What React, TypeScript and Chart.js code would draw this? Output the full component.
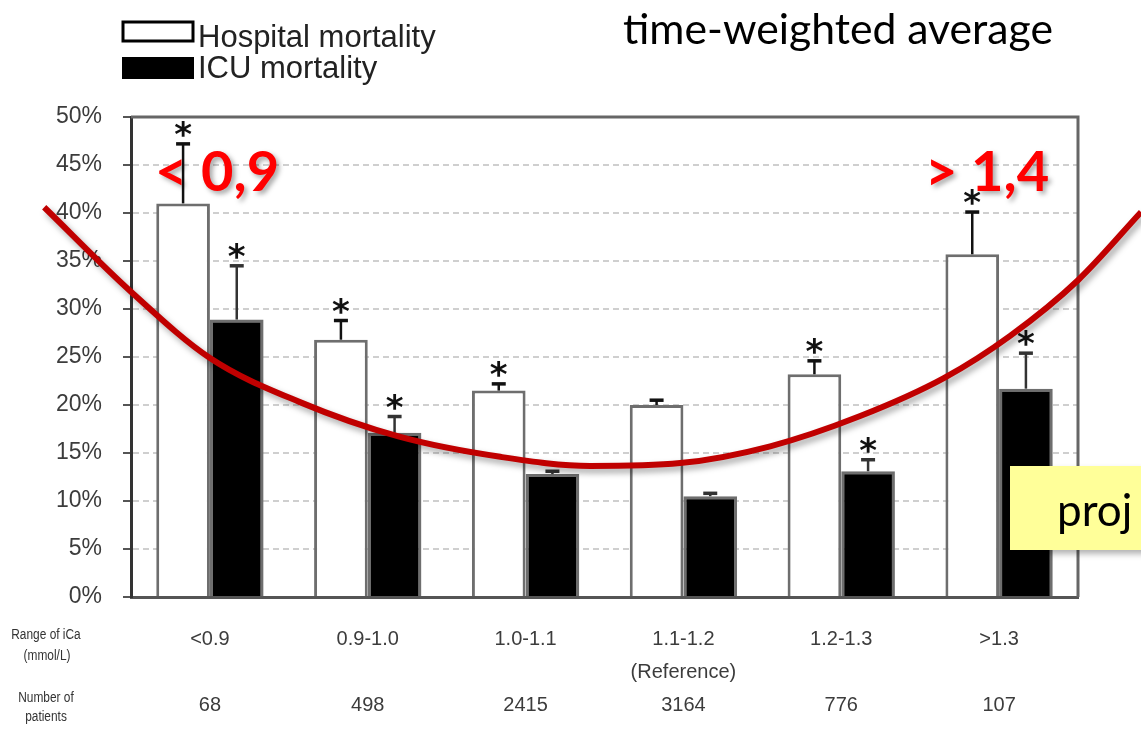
import React, { useEffect, useRef } from 'react';
import { Chart, registerables } from 'chart.js';

Chart.register(...registerables);

// ---------- data ----------
const categories = ['<0.9', '0.9-1.0', '1.0-1.1', '1.1-1.2', '1.2-1.3', '>1.3'];
const categorySubLabels = ['', '', '', '(Reference)', '', ''];
const patientCounts = ['68', '498', '2415', '3164', '776', '107'];

const hospitalMortality = [41.0, 26.8, 21.5, 20.0, 23.2, 35.7];
const hospitalErrorTop = [47.2, 28.8, 22.2, 20.5, 24.6, 40.1];
const hospitalSignificant = [true, true, true, false, true, true];

const icuMortality = [28.9, 17.1, 12.8, 10.5, 13.1, 21.7];
const icuErrorTop = [34.5, 18.8, 13.1, 10.8, 14.3, 25.4];
const icuSignificant = [true, true, false, false, true, true];

// hand-drawn U-shaped annotation curve (x in category-index units, y in %), right to left
const curveX = [5.9, 5.5, 5.07, 4.65, 4.12, 3.55, 2.98, 2.41, 1.84, 1.2, 0.57, 0.0, -0.5, -1.05];
const curveY = [40.1, 33.0, 27.2, 22.8, 18.85, 15.7, 13.95, 13.65, 14.6, 16.7, 20.3, 24.9, 31.8, 40.6];

const yTicks = [0, 5, 10, 15, 20, 25, 30, 35, 40, 45, 50];

const W = 1141;
const H = 735;

export default function App() {
  const ref = useRef<HTMLCanvasElement>(null);

  useEffect(() => {
    document.body.style.margin = '0';
    const canvas = ref.current!;

    const framePlugin = {
      id: 'frame',
      beforeDatasetsDraw(chart: any) {
        const { ctx, chartArea: a } = chart;
        ctx.save();
        ctx.strokeStyle = '#666';
        ctx.lineWidth = 3;
        ctx.beginPath();
        ctx.moveTo(a.left, a.top);
        ctx.lineTo(a.right, a.top);
        ctx.lineTo(a.right, a.bottom);
        ctx.stroke();
        ctx.restore();
      },
    };

    const errorPlugin = {
      id: 'errors',
      beforeDatasetDraw(chart: any, args: any) {
        if (args.index === 2) {
          const ctx = chart.ctx;
          ctx.save();
          ctx.shadowColor = 'rgba(0,0,0,0.35)';
          ctx.shadowBlur = 6;
          ctx.shadowOffsetX = 3;
          ctx.shadowOffsetY = 4;
        }
      },
      afterDatasetDraw(chart: any, args: any) {
        const ctx = chart.ctx;
        if (args.index === 2) {
          ctx.restore();
          return;
        }
        if (args.index > 1) return;
        const meta = chart.getDatasetMeta(args.index);
        const errs = args.index === 0 ? hospitalErrorTop : icuErrorTop;
        const sig = args.index === 0 ? hospitalSignificant : icuSignificant;
        const ys = chart.scales.y;
        ctx.save();
        meta.data.forEach((bar: any, k: number) => {
          const x = bar.x;
          const top = bar.y;
          const cap = ys.getPixelForValue(errs[k]);
          ctx.strokeStyle = args.index === 0 ? '#111' : '#333';
          ctx.lineWidth = 2.5;
          ctx.beginPath();
          ctx.moveTo(x, top);
          ctx.lineTo(x, cap);
          ctx.stroke();
          ctx.lineWidth = 3.5;
          ctx.beginPath();
          ctx.moveTo(x - 7, cap);
          ctx.lineTo(x + 7, cap);
          ctx.stroke();
          if (sig[k]) {
            ctx.font = 'bold 34px "DejaVu Sans"';
            ctx.fillStyle = '#111';
            ctx.textAlign = 'center';
            ctx.textBaseline = 'alphabetic';
            const m = ctx.measureText('*');
            const centerY = cap - 15;
            const base = centerY + (m.actualBoundingBoxAscent - m.actualBoundingBoxDescent) / 2;
            ctx.fillText('*', x, base);
          }
        });
        ctx.restore();
      },
    };

    const textPlugin = {
      id: 'texts',
      afterDraw(chart: any) {
        const ctx = chart.ctx;
        ctx.save();
        // legend
        ctx.lineWidth = 3;
        ctx.fillStyle = '#fff';
        ctx.strokeStyle = '#000';
        ctx.fillRect(123, 22, 70, 19);
        ctx.strokeRect(123, 22, 70, 19);
        ctx.fillStyle = '#000';
        ctx.fillRect(122, 57, 72, 22);
        ctx.font = '31px "Liberation Sans", Arial, sans-serif';
        ctx.fillStyle = '#222';
        ctx.textAlign = 'left';
        ctx.textBaseline = 'alphabetic';
        ctx.fillText('Hospital mortality', 198, 47);
        ctx.fillText('ICU mortality', 198, 78);

        // title
        ctx.fillStyle = '#000';
        let f = 40;
        ctx.font = `${f}px Lato, "Open Sans", sans-serif`;
        const tw = ctx.measureText('time-weighted average').width;
        f = f * 430 / tw;
        ctx.font = `${f}px Lato, "Open Sans", sans-serif`;
        ctx.fillText('time-weighted average', 623, 44);

        // row headers
        ctx.fillStyle = '#333';
        ctx.font = '14px "Liberation Sans", Arial, sans-serif';
        ctx.textAlign = 'center';
        const rowHead = (t: string, x: number, y: number) => {
          ctx.save();
          ctx.translate(x, y);
          ctx.scale(0.85, 1);
          ctx.fillText(t, 0, 0);
          ctx.restore();
        };
        rowHead('Range of iCa', 46, 639);
        rowHead('(mmol/L)', 47, 660);
        rowHead('Number of', 46, 702);
        rowHead('patients', 46, 721);

        // red range labels
        ctx.textAlign = 'left';
        ctx.shadowColor = 'rgba(0,0,0,0.35)';
        ctx.shadowBlur = 5;
        ctx.shadowOffsetX = 3;
        ctx.shadowOffsetY = 3;
        ctx.fillStyle = '#ff0000';
        ctx.font = 'bold 56px Lato, "Open Sans", sans-serif';
        ctx.fillText('< 0,9', 155, 191);
        ctx.fillText('> 1,4', 925, 191);

        // yellow projection box
        ctx.shadowColor = 'rgba(0,0,0,0.3)';
        ctx.shadowBlur = 6;
        ctx.shadowOffsetX = 3;
        ctx.shadowOffsetY = 4;
        ctx.fillStyle = '#ffff99';
        ctx.fillRect(1010, 466, 160, 84);
        ctx.shadowColor = 'transparent';
        ctx.fillStyle = '#000';
        ctx.font = '44px Lato, "Open Sans", sans-serif';
        ctx.fillText('proj', 1057, 526);
        ctx.restore();
      },
    };

    const chart = new Chart(canvas, {
      type: 'bar',
      data: {
        datasets: [
          {
            label: 'Hospital mortality',
            data: hospitalMortality.map((v, i) => ({ x: i, y: v })),
            backgroundColor: '#ffffff',
            borderColor: '#6e6e6e',
            borderWidth: 3,
            barPercentage: 1,
            categoryPercentage: 0.68,
          },
          {
            label: 'ICU mortality',
            data: icuMortality.map((v, i) => ({ x: i, y: v })),
            backgroundColor: '#000000',
            borderColor: '#6e6e6e',
            borderWidth: 3,
            barPercentage: 1,
            categoryPercentage: 0.68,
          },
          {
            type: 'line',
            label: 'curve',
            data: curveX.map((x, i) => ({ x, y: curveY[i] })),
            borderColor: '#c00000',
            borderWidth: 6,
            pointRadius: 0,
            cubicInterpolationMode: 'monotone',
            fill: false,
            clip: false,
            order: -1,
          } as any,
        ],
      },
      options: {
        responsive: false,
        animation: false,
        devicePixelRatio: 1,
        layout: { padding: { left: 0, top: 117, right: 63, bottom: 0 } },
        plugins: { legend: { display: false }, tooltip: { enabled: false } },
        scales: {
          x: {
            type: 'linear',
            position: 'bottom',
            min: -0.5,
            max: 5.5,
            offset: false,
            afterBuildTicks: (s: any) => {
              s.ticks = categories.map((_, i) => ({ value: i }));
            },
            grid: { display: false, drawTicks: false, offset: false },
            border: { display: true, color: '#555', width: 3 },
            ticks: {
              callback: (v: any) => [categories[v], categorySubLabels[v], patientCounts[v]],
              color: '#3c3c3c',
              font: { family: '"Liberation Sans", Arial, sans-serif', size: 20, lineHeight: 1.65 },
              padding: 26,
              maxRotation: 0,
              autoSkip: false,
            },
            afterFit: (s: any) => {
              s.height = 138;
            },
          },
          y: {
            min: 0,
            max: 50,
            afterBuildTicks: (s: any) => {
              s.ticks = yTicks.map((v) => ({ value: v }));
            },
            ticks: {
              callback: (v: any) => `${v}%`,
              color: '#3c3c3c',
              font: { family: '"Liberation Sans", Arial, sans-serif', size: 23 },
              padding: 21,
            },
            grid: {
              color: '#cfcfcf',
              lineWidth: 2,
              tickColor: '#555',
              tickLength: 8,
              tickWidth: 2,
            },
            border: { color: '#333', width: 3, dash: [6, 4] },
            afterFit: (s: any) => {
              s.width = 131;
            },
          },
        },
      } as any,
      plugins: [framePlugin, errorPlugin, textPlugin],
    });

    return () => chart.destroy();
  }, []);

  return (
    <div style={{ width: W, height: H, position: 'relative', background: '#fff' }}>
      <canvas ref={ref} width={W} height={H} style={{ display: 'block' }} />
    </div>
  );
}
